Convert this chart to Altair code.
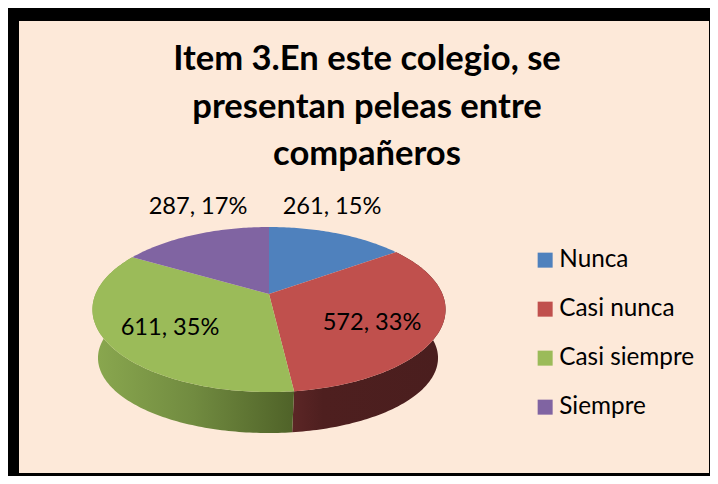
import math
import altair as alt

# ---- data ----
categories = ["Nunca", "Casi nunca", "Casi siempre", "Siempre"]
counts = [261, 572, 611, 287]
percents = [15, 33, 35, 17]
title_lines = ["Item 3.En este colegio, se", "presentan peleas entre", "compañeros"]
colors = ["#4f81bd", "#c0504d", "#9bbb59", "#8064a2"]

# ---- layout (plot pixels, page minus 8px margin) ----
W, H = 702, 468
CX, CY = 261, 286      # top-face apex
A, B, K = 173.4, 79.6, 0.188  # perspective model of the tilted disc
SX, SY, BCX, BCY = 0.963, 0.91, 260, 335.8
label_pos = [(324, 199), (364, 315), (162, 320), (190, 199)]
FONT = "Lato"


def project(deg, cx, cy, sx, sy):
    t = math.radians(deg)
    u, v = math.sin(t), math.cos(t)
    w = 1 + K * v
    return [cx + sx * A * u / w, cy - sy * B * v / w]


def rim(a, b, cx, cy, sx=1.0, sy=1.0):
    n = max(2, int(abs(b - a)) + 1)
    return [project(a + (b - a) * i / n, cx, cy, sx, sy) for i in range(n + 1)]


total = sum(counts)
bounds = [0.0]
for c in counts:
    bounds.append(bounds[-1] + 360.0 * c / total)

tops, walls = [], {}
for i, cat in enumerate(categories):
    a, b = bounds[i], bounds[i + 1]
    ring = [[CX, CY]] + rim(a, b, CX, CY) + [[CX, CY]]
    tops.append({"type": "Feature", "properties": {"cat": cat},
                 "geometry": {"type": "Polygon", "coordinates": [ring]}})
    wall = rim(a, b, CX, CY) + rim(b, a, BCX, BCY, SX, SY)
    wall.append(wall[0])
    walls[cat] = {"type": "Feature", "properties": {"cat": cat},
                  "geometry": {"type": "Polygon", "coordinates": [wall]}}

PROJ = dict(type="identity", scale=1, translate=[0, 0])


def grad(stops):
    return alt.Gradient(gradient="linear", x1=0, x2=1, y1=0, y2=0,
                        stops=[alt.GradientStop(offset=o, color=c) for o, c in stops])


interior = alt.Chart(alt.Data(values=[{"a": 1}])).mark_rect(color="#fde9d9").encode(
    x=alt.value(11), x2=alt.value(701), y=alt.value(13), y2=alt.value(465))

red_wall = alt.Chart(alt.Data(values=[walls["Casi nunca"]])).mark_geoshape(
    fill=grad([(0, "#5c2626"), (0.2, "#4e1f1f"), (1, "#4a1e1e")])).project(**PROJ)
green_wall = alt.Chart(alt.Data(values=[walls["Casi siempre"]])).mark_geoshape(
    fill=grad([(0, "#8aa84f"), (0.5, "#718b40"), (1, "#4f6228")])).project(**PROJ)

top = alt.Chart(alt.Data(values=tops)).mark_geoshape().encode(
    color=alt.Color("properties.cat:N",
                    scale=alt.Scale(domain=categories, range=colors),
                    legend=alt.Legend(title=None, orient="none", legendX=525, legendY=240,
                                      symbolType="square", symbolSize=225, symbolStrokeWidth=0,
                                      symbolOpacity=1, labelFont=FONT, labelFontSize=24.3,
                                      labelColor="#000000", labelOffset=2, rowPadding=24,
                                      labelLimit=200))
).project(**PROJ)

labels = []
for cat_count, pct, (lx, ly) in zip(counts, percents, label_pos):
    labels.append(
        alt.Chart(alt.Data(values=[{"label": f"{cat_count}, {pct}%"}])).mark_text(
            font=FONT, fontSize=23.6, color="#000000", align="center", baseline="middle"
        ).encode(x=alt.value(lx), y=alt.value(ly), text="label:N"))

chart = alt.layer(interior, red_wall, green_wall, top, *labels).properties(
    width=W, height=H, background="#000000", padding=0,
    autosize=alt.AutoSizeParams(type="none"),
    title=alt.TitleParams(text=title_lines, font=FONT, fontSize=34.6, fontWeight="bold",
                          color="#000000", lineHeight=47.5, anchor="middle", dx=8, offset=-165),
).configure_view(strokeWidth=0)

chart.save("out.html", embed_options={"renderer": "svg", "actions": False})
